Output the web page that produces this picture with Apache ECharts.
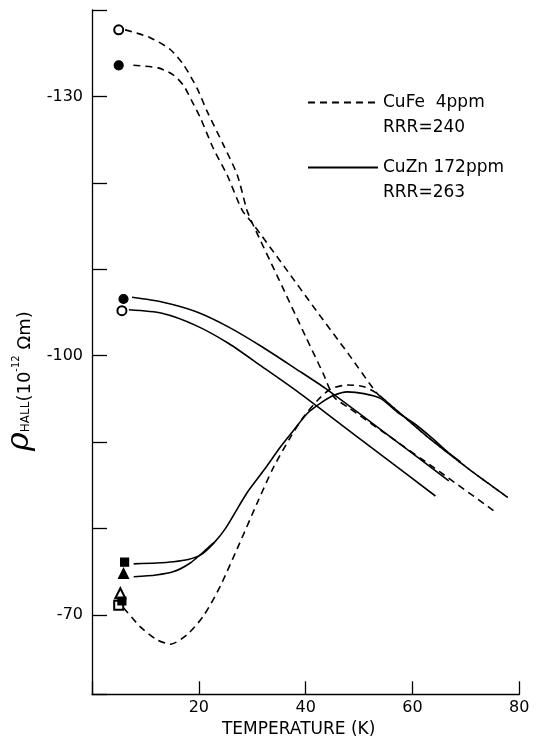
<!DOCTYPE html>
<html><head><meta charset="utf-8">
<script src="https://cdn.jsdelivr.net/npm/echarts@6/dist/echarts.min.js"></script>
<style>html,body{margin:0;padding:0;background:#fff}#c{width:536px;height:742px}</style>
</head><body><div id="c"></div>
<script>
// ---- data (T in K, rho_Hall in 1e-12 Ohm m) ----
const cuFeOpenCircleCurve = [[6.2,-137.7],[10.9,-136.8],[14.7,-135.4],[17.2,-133.6],[19.7,-130.9],[21.6,-128.2],[24.6,-124.4],[27.2,-120.9],[29.0,-116.85],[30.0,-115.35],[35,-108.8],[40,-102.2],[43.3,-97.9],[45.3,-95.2],[48,-94.0],[55,-90.95],[65,-86.6],[75.2,-82.05]];
const cuFeFilledCircleCurve = [[7.75,-133.6],[12.4,-133.3],[15.2,-132.5],[17.1,-131.3],[18.75,-129.4],[20.3,-127.5],[22.7,-124.0],[25.3,-120.9],[28.1,-116.85],[30.0,-115.35],[36,-110.3],[42,-105.2],[48,-100.2],[53.4,-95.6],[55.3,-94.6],[60.9,-91.6],[63.0,-90.5],[69.0,-87.6],[72,-86.2],[77.8,-83.6]];
const cuFeLowCurve = [[5.94,-70.8],[9.06,-68.6],[12.2,-67.1],[14.7,-66.6],[17.8,-67.7],[20.9,-69.9],[24.0,-73.3],[27.5,-78.1],[30.9,-82.9],[34.0,-87.1],[37.2,-90.6],[39.6,-92.9],[42.2,-94.8],[44.6,-96.1],[47.8,-96.6],[50.9,-96.4],[53.4,-95.6],[55.3,-94.6],[60.9,-91.6],[63.0,-90.5],[69.0,-87.6],[72,-86.2],[77.8,-83.6]];
const cuZnSquareCurve = [[7.8,-75.9],[12,-76.0],[15.3,-76.15],[18,-76.4],[20.3,-76.9],[22.8,-78.3],[25,-80.0],[29.0,-84.1],[32.2,-86.75],[35.3,-89.45],[37.8,-91.4],[40.3,-93.3],[42.8,-94.5],[45.3,-95.4],[47.8,-95.8],[50.9,-95.6],[54.0,-95.05],[57.1,-93.5],[60.2,-92.2],[63.4,-90.6],[66.5,-88.9],[69.0,-87.7]];
const cuZnTriangleCurve = [[7.8,-74.4],[12,-74.6],[15.3,-75.0],[18.4,-76.0],[20.9,-77.3],[22.8,-78.35]];
const cuZnFilledCircleCurve = [[7.5,-106.75],[13.1,-106.2],[19.4,-105.1],[25.6,-103.3],[31.9,-101.0],[38.1,-98.5],[43.7,-96.2],[55,-91.0],[66.8,-85.5]];
const cuZnOpenCircleCurve = [[6.9,-105.3],[13.1,-104.9],[19.4,-103.5],[25.6,-101.4],[31.9,-98.7],[38.1,-96.0],[43.7,-93.4],[55,-88.1],[64.3,-83.75]];

const openCirclePoints = [[5.0,-137.7],[5.6,-105.2]];
const filledCirclePoints = [[5.0,-133.6],[5.9,-106.55]];
const openSquarePoints = [[5.0,-71.1]];
const openTrianglePoints = [[5.3,-72.5]];
const filledSquarePoints = [[6.1,-76.1],[5.6,-71.6]];
const filledTrianglePoints = [[5.9,-74.8]];

const xTickLabels = [20, 40, 60, 80];
const yTickLabels = [-130, -100, -70];
const legendNames = ['CuFe', 'CuZn'];
const legendLabels = ['\nCuFe  4ppm\nRRR=240', '\nCuZn 172ppm\nRRR=263'];

// ---- chart ----
const FONT = 'DejaVu Sans';
const DASH = [7, 5];
function curve(name, data, dashed) {
  return { type: 'line', name: name, data: data, smooth: 0.25, symbol: 'none', showSymbol: false,
    lineStyle: { color: '#000', width: 1.6, type: dashed ? DASH : 'solid' }, itemStyle: { color: '#000' },
    silent: true, animation: false, z: 2 };
}
function pts(name, data, symbol, size) {
  return { type: 'scatter', name: name, data: data, symbol: symbol, symbolSize: size,
    itemStyle: { color: '#000', borderColor: '#000', borderWidth: 1.2, opacity: 1 },
    silent: true, animation: false, z: 5 };
}
const chart = echarts.init(document.getElementById('c'), null, { renderer: 'canvas' });
chart.setOption({
  backgroundColor: '#fff',
  animation: false,
  textStyle: { fontFamily: FONT, color: '#000' },
  grid: { left: 92, right: 16.7, top: 10, bottom: 47.7, outerBoundsMode: 'none', containLabel: false },
  legend: {
    data: legendNames, left: 307, top: 65, orient: 'vertical', padding: 0, itemGap: -10,
    itemWidth: 70, itemHeight: 14, selectedMode: false,
    itemStyle: { opacity: 0 },
    formatter: function (n) { return legendLabels[legendNames.indexOf(n)]; },
    textStyle: { fontFamily: FONT, fontSize: 17, lineHeight: 25, color: '#000' }
  },
  xAxis: {
    type: 'value', min: 0, max: 80, interval: 20,
    axisLine: { onZero: false, lineStyle: { color: '#000', width: 1.3 } },
    axisTick: { inside: true, length: 13, lineStyle: { color: '#000', width: 1.3 } },
    axisLabel: { formatter: function (v) { return xTickLabels.indexOf(v) >= 0 ? String(v) : ''; }, color: '#000', fontSize: 16, margin: 6, fontFamily: FONT },
    splitLine: { show: false },
    name: '{a|TEMPERATURE (K)}', nameLocation: 'middle', nameGap: 26,
    nameTextStyle: { color: '#000', rich: { a: { fontSize: 17, color: '#000', fontFamily: FONT, padding: [0, 14, 0, 0] } } }
  },
  yAxis: {
    type: 'value', inverse: true, min: -140, max: -60.8, interval: 10,
    axisLine: { onZero: false, lineStyle: { color: '#000', width: 1.3 } },
    axisTick: { inside: true, length: 15, lineStyle: { color: '#000', width: 1.3 } },
    axisLabel: { formatter: function (v) { return yTickLabels.indexOf(v) >= 0 ? String(v) : ''; }, color: '#000', fontSize: 16, margin: 9, fontFamily: FONT },
    splitLine: { show: false },
    name: '{r|ρ}{s|HALL}{n|(10}{p|-12}{n| Ωm)}',
    nameLocation: 'middle', nameRotate: 90, nameGap: 40,
    nameTextStyle: {
      color: '#000', padding: [0, 58, 0, 0],
      rich: {
        r: { fontSize: 32, fontStyle: 'italic', fontFamily: 'DejaVu Serif', color: '#000', padding: [0, 0, 12, 0] },
        s: { fontSize: 12, fontFamily: FONT, color: '#000' },
        n: { fontSize: 18, fontFamily: FONT, color: '#000' },
        p: { fontSize: 10, fontFamily: FONT, color: '#000', padding: [0, 0, 18, 0] }
      }
    }
  },
  series: [
    curve('CuFe', cuFeOpenCircleCurve, true),
    curve('CuFe', cuFeFilledCircleCurve, true),
    curve('CuFe', cuFeLowCurve, true),
    curve('CuZn', cuZnSquareCurve, false),
    curve('CuZn', cuZnTriangleCurve, false),
    curve('CuZn', cuZnFilledCircleCurve, false),
    curve('CuZn', cuZnOpenCircleCurve, false),
    pts('open circle', openCirclePoints, 'emptyCircle', 9),
    pts('filled circle', filledCirclePoints, 'circle', 9),
    pts('open square', openSquarePoints, 'emptyRect', 9),
    pts('open triangle', openTrianglePoints, 'emptyTriangle', 10),
    pts('filled square', filledSquarePoints, 'rect', 8),
    pts('filled triangle', filledTrianglePoints, 'triangle', 10)
  ]
});
</script></body></html>
